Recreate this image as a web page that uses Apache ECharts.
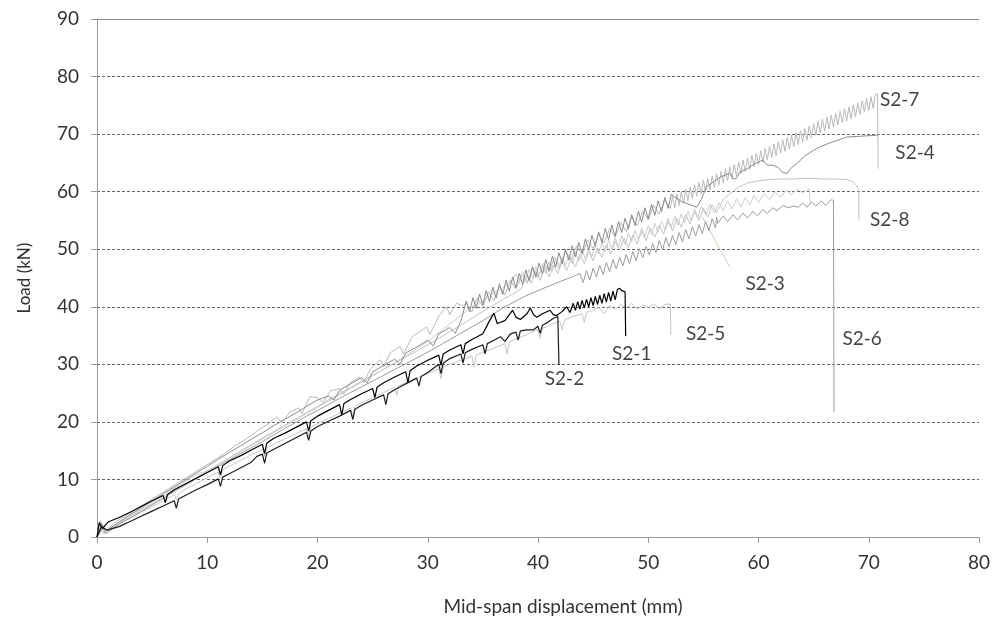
<!DOCTYPE html>
<html>
<head>
<meta charset="utf-8">
<script src="https://cdn.jsdelivr.net/npm/echarts@6/dist/echarts.min.js"></script>
<style>
html,body{margin:0;padding:0;background:#fff;}
#c{width:995px;height:626px;}
</style>
</head>
<body>
<div id="c"></div>
<script>
// ---- axis ticks ----
const xTicks = [0, 10, 20, 30, 40, 50, 60, 70, 80];
const yTicks = [0, 10, 20, 30, 40, 50, 60, 70, 80, 90];

// ---- series data: [displacement (mm), load (kN)] ----
const s27 = [[0,0],[0.4,2.6],[0.8,1.0],[1.5,2.4],[2.5,3.6],[3.5,4.8],[4.5,6],[5.5,7.2],[6.5,8.4],[7.5,9.6],[8.5,10.8],[9.5,12],[10.5,13.2],[11.5,14.4],[12.5,15.8],[13.5,17],[14.5,18.4],[15.5,19.6],[16.3,20.9],[16.8,19.8],[17.5,21.8],[18.3,22.4],[18.6,21.4],[19.3,24.4],[20,24.2],[20.5,23.4],[21.2,25.4],[22,25.8],[22.4,24.8],[22.9,26.7],[23.8,27.8],[24.2,26.8],[24.8,29.2],[25.7,30.8],[26,29.6],[26.6,32],[27.5,33.1],[27.8,31.8],[28.6,34.8],[29.9,36.5],[30.2,35.2],[31,38.4],[31.7,40],[32,38.6],[32.6,40.6],[33.2,40.2],
[33.5,40.6],[34,39.1],[34.5,41.6],[35,40.1],[35.5,42.6],[36,41.1],[36.5,43.6],[37,42.1],[37.5,44.6],[38,43.1],[38.5,45.6],[39,44.1],[39.5,46.6],[40,45.1],[40.5,47.6],[41,46.1],[41.5,48.6],[42,47.1],[42.5,49.6],[43,48.1],[43.5,50.6],[44,49.1],[44.5,51.6],[45,50.1],[45.5,52.6],[46,51.1],[46.5,53.6],[47,52.1],[47.5,54.6],[48,53.1],[48.5,55.6],[49,54.1],[49.5,56.6],[50,55.1],[50.5,57.6],[51,56.1],[51.5,58.6],[52,57.1],
[52.2,59.2],[52.4,57.2],[52.6,59.6],[52.8,57.6],[53,60],[53.2,58],[53.4,60.4],[53.6,58.4],[53.8,60.8],[54,58.8],[54.2,61.2],[54.4,59.2],[54.6,61.6],[54.8,59.6],[55,62],[55.2,60],[55.4,62.3],[55.6,60.3],[55.8,62.7],[56,60.7],[56.2,63.1],[56.4,61.1],[56.6,63.5],[56.8,61.5],[57,63.9],[57.2,61.9],[57.4,64.3],[57.6,62.3],[57.8,64.7],[58,62.7],[58.2,65.1],[58.4,63.1],[58.6,65.5],[58.8,63.5],[59,65.9],[59.2,63.9],[59.4,66.3],[59.6,64.3],[59.8,66.7],[60,64.7],[60.2,67.1],[60.4,65.1],[60.6,67.5],[60.8,65.5],[61,67.9],[61.2,65.9],[61.4,68.3],[61.6,66.3],[61.8,68.7],[62,66.7],[62.2,69],[62.4,67],[62.6,69.4],[62.8,67.4],[63,69.8],[63.2,67.8],[63.4,70.2],[63.6,68.2],[63.8,70.6],[64,68.6],[64.2,71],[64.4,69],[64.6,71.4],[64.8,69.4],[65,71.8],[65.2,69.8],[65.4,72.2],[65.6,70.2],[65.8,72.6],[66,70.5],[66.2,72.9],[66.4,70.9],[66.6,73.3],[66.8,71.2],[67,73.6],[67.2,71.6],[67.4,74],[67.6,72],[67.8,74.4],[68,72.3],[68.2,74.7],[68.4,72.7],[68.6,75.1],[68.8,73],[69,75.4],[69.2,73.4],[69.4,75.8],[69.6,73.8],[69.8,76.2],[70,74.1],[70.2,76.5],[70.4,74.5],[70.6,76.9],[70.8,77],[70.85,64]];

const s24 = [[0,0],[0.5,1.5],[1,1.2],[2,2.6],[3,3.9],[4,5.1],[5,6.3],[6,7.5],[7,8.7],[8,9.9],[9,11.1],[10,12.3],[11,13.5],[12,14.7],[13,15.8],[14,17],[15,18.1],[16,19.3],[17,20.4],[18,21.5],[19,22.7],[20,23.8],[21,24.5],[21.5,23.8],[22,25.5],[23,26.6],[24,27.7],[24.5,26.8],[25,28.7],[26,29.8],[27,30.9],[27.5,30],[28,32],[29,33],[30,34.2],[30.5,33.2],[31,35.3],[32,36.4],[32.5,35.4],[33,37.5],
[33.5,41],[33.8,39.1],[34.1,41.6],[34.4,39.7],[34.7,42.2],[35,40.3],[35.3,42.8],[35.6,40.9],[35.9,43.4],[36.2,41.5],[36.5,44],[36.8,42.1],[37.1,44.6],[37.4,42.7],[37.7,45.2],[38,43.3],[38.3,45.8],[38.6,43.9],[38.9,46.4],[39.2,44.5],[39.5,47],[39.8,45.1],[40.1,47.6],[40.4,45.7],[40.7,48.2],[41,46.3],[41.3,48.8],[41.6,46.9],[41.9,49.4],[42.2,47.5],[42.5,50],[42.8,48.1],[43.1,50.6],[43.4,48.7],[43.7,51.2],[44,49.3],[44.3,51.8],[44.6,49.9],[44.9,52.4],[45.2,50.5],[45.5,53],[45.8,51.1],[46.1,53.6],[46.4,51.7],[46.7,54.2],[47,52.3],[47.3,54.8],[47.6,52.9],[47.9,55.4],[48.2,53.5],[48.5,56],[48.8,54.1],[49.1,56.6],[49.4,54.7],[49.7,57.2],[50,55.3],[50.3,57.8],[50.6,55.9],[50.9,58.4],[51.2,56.5],[51.5,59],[51.8,57.1],[52.1,59.6],
[52.3,59.2],[53,58.3],[54.4,57.3],[54.8,58.6],[55.3,60.9],[56,61.8],[56.6,62.6],[57.4,63.2],[57.7,62.2],[58,62.3],[58.3,63.4],[59,64],[59.6,64.8],[60.4,65.5],[60.8,64.6],[61.3,64.6],[61.8,64.2],[62.2,63.3],[62.6,63.2],[63,64.2],[63.5,64.9],[64.2,66.2],[65,67.2],[65.6,67.8],[66.5,68.5],[67.3,69],[68,69.5],[69,69.6],[69.8,69.7],[70.7,69.8],[70.85,69.7]];

const s23 = [[0,0],[0.5,2],[1,1],[2,2.5],[3,3.7],[4,4.9],[5,6.1],[6,7.3],[7,8.5],[8,9.6],[9,10.8],[10,11.5],[11,12.6],[12,13.7],[13,14.8],[14,15.9],[15,17],[16,18.1],[17,19.2],[18,20.3],[19,21.4],[20,22.5],[21,23.6],[22,24.7],[23,25.8],[24,26.9],[25,28],[26,29.2],[27,30.3],[28,31.5],[29,32.7],[30,34],[31,35.5],[32,37],[33,38.5],[34,40],[35,41],[36,42.5],[37,43.5],[37.6,44.4],
[38,45.7],[38.3,44.1],[38.6,46.1],[38.9,44.5],[39.2,46.5],[39.5,45],[39.8,47],[40.1,45.4],[40.4,47.4],[40.7,45.8],[41,47.8],[41.3,46.2],[41.6,48.2],[41.9,46.6],[42.2,48.6],[42.5,47.1],[42.8,49.1],[43.1,47.5],[43.4,49.5],[43.7,47.9],[44,49.9],[44.3,48.3],[44.6,50.3],[44.9,48.7],[45.2,50.7],[45.5,49.2],[45.8,51.2],[46.1,49.6],[46.4,51.6],[46.7,50],[47,52],[47.3,50.4],[47.6,52.4],[47.9,50.8],[48.2,52.8],[48.5,51.3],[48.8,53.3],[49.1,51.7],[49.4,53.7],[49.7,52.1],[50,54.1],[50.3,52.5],[50.6,54.5],[50.9,52.9],[51.2,54.9],[51.5,53.4],[51.8,55.4],[52.1,53.8],[52.4,55.8],[52.7,54.2],[53,56.2],[53.3,54.6],[53.6,56.6],[53.9,55],[54.2,57],[54.5,55.5],[54.8,57.4],
[55.2,56],[55.6,57.8],[56,56.3],[56.4,58.1],[56.8,56.7],[57.2,58.4],[57.6,57],[58,58.7],[58.4,57.3],[58.8,59],[59.2,57.7],[59.6,59.4],[60,58.1],[60.5,59.7],[61,58.6],[61.5,60],[62,59],[62.5,60.3],[63,59.4],[63.5,60.5],[64,59.8],[64.6,60.5],[64.7,58]];

const s28 = [[0,0],[0.3,1.8],[0.7,0.7],[1.5,1.8],[3,3.5],[5,5.8],[7,8.1],[9,10.3],[11,12.6],[13,14.9],[15,17.2],[17,19.4],[19,21.6],[21,23.8],[23,26],[25,28.1],[27,30.2],[29,32.3],[31,34.5],[33,36.8],[35,39.2],[36,40.3],[37,41.5],[38,42.5],[38.5,43.2],
[39,45.6],[39.4,44.1],[39.8,46.2],[40.2,44.6],[40.6,46.8],[41,45.2],[41.4,47.3],[41.8,45.8],[42.2,47.9],[42.6,46.3],[43,48.5],[43.4,46.9],[43.8,49.1],[44.2,47.5],[44.6,49.6],[45,48],[45.4,50.2],[45.8,48.6],[46.2,50.8],[46.6,49.2],[47,51.4],[47.4,49.8],[47.8,51.9],[48.2,50.3],[48.6,52.5],[49,50.9],[49.4,53.1],[49.8,51.5],[50.2,53.7],[50.6,52.1],[51,54.2],[51.4,52.6],[51.8,54.8],[52.2,53.2],[52.6,55.4],[53,53.8],[53.4,56],[53.8,54.4],[54.2,56.5],[54.6,55],[55,57.1],[55.4,55.6],[55.8,57.7],[56.2,56.4],
[56.8,58.6],[57.5,59.8],[58.2,60.8],[59,61.5],[60,61.9],[61,62.1],[62,62.2],[63,62.2],[64,62.3],[65,62.3],[66,62.2],[67,62.2],[68,62.1],[68.5,61.8],[68.9,61],[69.1,60.2],[69.1,55]];

const s26 = [[0,0],[0.4,2.2],[0.8,0.6],[2,2.2],[3,3.3],[4,4.4],[5,5.6],[6,6.7],[7,7.9],[8,9],[9,10.1],[10,11.2],[11,12.3],[12,13.4],[13,14.5],[14,15.5],[15,16.6],[16,17.7],[17,18.8],[18,19.9],[19,21],[20,22],[21,23],[22,24.1],[23,25.1],[24,26.1],[25,27.1],[26,28.1],[27,29.1],[28,30.1],[29,31.1],[30,32.1],[31,33.2],[32,34.3],[33,35.4],[34,36.5],[35,37.6],[36,38.8],[37,40],[38,41],[39,42],[40,42.8],[41,43.6],[42,44.4],[43,45.1],
[43.8,45.8],[44.1,44.2],[44.4,46.3],[44.7,44.7],[45,46.7],[45.3,45.2],[45.6,47.2],[45.9,45.6],[46.2,47.7],[46.5,46.1],[46.8,48.2],[47.1,46.6],[47.4,48.6],[47.7,47.1],[48,49.1],[48.3,47.5],[48.6,49.6],[48.9,48],[49.2,50.1],[49.5,48.5],[49.8,50.5],[50.1,49],[50.4,51],[50.7,49.4],[51,51.5],[51.3,49.9],[51.6,52],[51.9,50.4],[52.2,52.4],[52.5,50.8],[52.8,52.9],[53.1,51.3],[53.4,53.4],[53.7,51.8],[54,53.9],[54.3,52.3],[54.6,54.3],[54.9,52.7],[55.2,54.8],[55.5,53.2],[55.8,55.3],[56.1,53.7],[56.2,55.6],
[56.3,54.5],[56.8,55.8],[57.2,54.8],[57.7,56],[58.1,55.1],[58.6,56.3],[59,55.4],[59.5,56.6],[59.9,55.8],[60.4,56.9],[60.8,56.2],[61.3,57.2],[61.7,56.7],[62.2,57.6],[62.7,57.2],[63.2,57.5],[63.6,57.3],[64,58],[64.4,57.3],[64.8,58.2],[65.2,57.5],[65.7,58.4],[66.1,57.6],[66.6,58.6],[66.8,58.5],[66.85,21.7]];

const s25 = [[0,0],[0.3,2.8],[0.6,0.5],[1,1.5],[2,2.3],[3,3.3],[4,4.3],[5,5.3],[6,6.3],[7,7.3],[7.2,6.5],[7.4,7.5],[8,8.3],[9,9.3],[10,10.3],[11,11.3],[11.2,10.2],[11.4,11.6],[12,12.3],[13,13.3],[14,14.3],[15,15.2],[15.2,14],[15.4,15.5],[16,16.1],[17,17],[18,17.9],[19,18.8],[19.2,17.6],[19.4,19.1],[20,19.7],[21,20.6],[22,21.5],[23,22.4],[23.2,21],[23.4,22.7],[24,23.3],[25,24.2],[26,25.1],[27,26],[27.2,24.6],[27.4,26.3],[28,26.8],[29,27.6],[30,28.4],[31,29.2],[31.2,27.5],[31.4,29.5],[32,30],[33,30.7],[34,31.4],[34.2,29.6],[34.4,31.6],[35,32.1],[36,32.8],[37,33.6],[37.2,31.8],[37.4,33.9],[38,34.4],[39,35.2],[40,36],[40.2,34.5],[40.4,36.2],[41,36.8],[42,37.5],[42.2,36],[42.4,37.7],[43,38.2],[44,38.8],[44.2,37.3],[44.4,39],[45,39.4],[45.5,39.9],[46,38.8],[46.5,40.2],[47,39.5],[47.5,40.4],[48,39.8],[48.5,40.6],[49,39.6],[49.5,40.3],[50,39.9],[50.5,40.5],[51,39.7],[51.5,40.4],[52,40.5],[52.05,35.1]];

const s22 = [[0,0],[0.4,1.8],[0.9,1.2],[2,1.8],[3,2.7],[4,3.6],[5,4.5],[6,5.4],[7,6.3],[7.2,5],[7.4,6.6],[8,7.2],[9,8.2],[10,9.1],[11,10.1],[11.2,8.8],[11.4,10.4],[12,11],[13,12],[14,13],[14.5,14],[15,14.4],[15.2,12.8],[15.4,14.6],[16,15.2],[17,16.2],[18,17.2],[19,18.2],[19.2,16.8],[19.4,18.4],[20,19.2],[21,20.1],[22,21],[23,22],[23.2,20.4],[23.4,22.2],[24,22.9],[25,23.8],[26,24.7],[26.2,23],[26.4,24.9],[27,25.6],[27.5,26.1],[28,26.6],[29,27.6],[29.2,26.2],[29.4,27.9],[30,28.6],[31,30],[31.2,28.4],[31.4,30.2],[32,31],[33,31.8],[33.2,30.2],[33.4,32],[34,32.6],[35,33.4],[35.2,31.8],[35.4,33.6],[36,34.2],[36.6,34.8],[37,34],[37.5,35.3],[38,35.6],[38.2,34.2],[38.4,35.8],[39,36],[39.6,36],[40,36.6],[40.2,35.4],[40.4,36.8],[40.8,37.2],[41.4,38],[41.8,38.3],[41.9,29.9]];

const s21 = [[0,0],[0.2,2.5],[0.5,1.5],[1,2.6],[2,3.4],[3,4.3],[4,5.3],[5,6.3],[6,7.2],[6.2,6],[6.4,7.4],[7,8.2],[8,9.2],[9,10.2],[10,11.2],[11,12.2],[11.2,10.8],[11.4,12.4],[12,13.2],[13,14.1],[14,15.1],[15,16.1],[15.2,14.5],[15.4,16.3],[16,17.1],[17,18],[18,19],[19,20],[19.2,18.4],[19.4,20.2],[20,21],[21,22],[22,23],[22.2,21.2],[22.4,23.2],[23,23.9],[24,24.9],[25,25.8],[25.2,24.2],[25.4,26],[26,26.8],[27,27.8],[28,28.7],[28.2,26.8],[28.4,28.9],[29,29.7],[30,30.7],[31,31.6],[31.2,29.8],[31.4,31.8],[32,32.5],[33,33.4],[33.2,31.8],[33.4,33.6],[34,34.3],[35,35.3],[35.5,37.2],[36,38.9],[36.3,37.1],[37,37.6],[37.7,39.4],[38,38.2],[38.4,37.8],[39,38.8],[39.3,39.8],[39.6,38.6],[39.9,38.2],[40.4,38.8],[41.1,39.4],[41.4,38.6],[41.7,38.5],[42.2,39.2],[42.6,40],[42.9,39],[43.2,40.6],[43.4,39.4],[43.6,40.9],[43.8,39.6],[44,41.1],[44.2,39.8],[44.4,41.3],[44.6,40],[44.8,41.6],[45,40.2],[45.2,41.8],[45.4,40.4],[45.6,42],[45.8,40.6],[46,42.3],[46.2,40.8],[46.4,42.5],[46.6,41],[46.8,42.7],[47,41.2],[47.2,43],[47.4,43.2],[47.6,42.8],[47.9,42.6],[47.95,34.9]];

// leader line from S2-3 label to its curve
const leaderS23 = [[54.9,55.6],[57.4,46.9]];

// specimen labels
const labelNames = ['S2-7','S2-4','S2-8','S2-3','S2-5','S2-6','S2-1','S2-2'];
const labelX = [72.8, 74.2, 71.9, 60.6, 55.2, 69.4, 48.5, 42.4];
const labelY = [75.9, 66.7, 55.1, 44.0, 35.3, 34.4, 31.8, 27.4];

const seriesNames = ['S2-7','S2-3','S2-8','S2-5','S2-6','S2-4','S2-2','S2-1'];
const seriesData  = [s27, s23, s28, s25, s26, s24, s22, s21];
const seriesColor = ['#b9b9b9','#cdcdcd','#c3c3c3','#c6c6c6','#9c9c9c','#8a8a8a','#1c1c1c','#000000'];

const FONT = 'Lato';

const chart = echarts.init(document.getElementById('c'), null, {renderer:'canvas'});

const series = seriesData.map((d, i) => ({
  name: seriesNames[i],
  type: 'line',
  data: d,
  showSymbol: false,
  symbol: 'none',
  lineStyle: {color: seriesColor[i], width: (i >= 6 ? 1.2 : 1)},
  silent: true,
  animation: false,
  z: 3 + i
}));

series.push({
  name: 'leader',
  type: 'line',
  data: leaderS23,
  symbol: 'none',
  lineStyle: {color: '#cfcfb8', width: 1},
  silent: true, animation: false, z: 2,
  markLine: {
    silent: true, symbol: 'none', animation: false,
    label: {show: false},
    lineStyle: {color: '#8c8c8c', width: 1, type: 'solid'},
    data: [{yAxis: 90}]
  }
});

series.push({
  name: 'labels',
  type: 'scatter',
  data: labelNames.map((n, i) => [labelX[i], labelY[i], n]),
  symbolSize: 1,
  itemStyle: {color: 'rgba(255,255,255,0)'},
  label: {
    show: true, position: 'inside',
    formatter: p => p.value[2],
    fontFamily: FONT, fontSize: 19, color: '#111'
  },
  silent: true, animation: false, z: 20
});

chart.setOption({
  animation: false,
  backgroundColor: '#ffffff',
  grid: {left: 97, right: 16, top: 19, bottom: 89, containLabel: false},
  xAxis: {
    type: 'value', min: 0, max: 80, interval: 10,
    name: 'Mid-span displacement (mm)',
    nameLocation: 'middle', nameGap: 60,
    nameTextStyle: {fontFamily: FONT, fontSize: 19, color: '#333', padding: [0,0,0,50]},
    axisLine: {show: true, lineStyle: {color: '#9a9a9a', width: 1}},
    axisTick: {show: true, inside: false, length: 6, lineStyle: {color: '#9a9a9a'}},
    axisLabel: {fontFamily: FONT, fontSize: 19, color: '#333', margin: 16,
      formatter: v => xTicks.includes(v) ? String(v) : ''},
    splitLine: {show: false}
  },
  yAxis: {
    type: 'value', min: 0, max: 90, interval: 10,
    name: 'Load (kN)',
    nameLocation: 'middle', nameGap: 64, nameRotate: 90,
    nameTextStyle: {fontFamily: FONT, fontSize: 17, color: '#333'},
    axisLine: {show: true, lineStyle: {color: '#9a9a9a', width: 1}},
    axisTick: {show: true, inside: false, length: 6, lineStyle: {color: '#9a9a9a'}},
    axisLabel: {fontFamily: FONT, fontSize: 19, color: '#333', margin: 18,
      formatter: v => yTicks.includes(v) ? String(v) : ''},
    splitLine: {show: true, lineStyle: {color: '#666', width: 1, type: [3, 2]}}
  },
  series: series
});
</script>
</body>
</html>
